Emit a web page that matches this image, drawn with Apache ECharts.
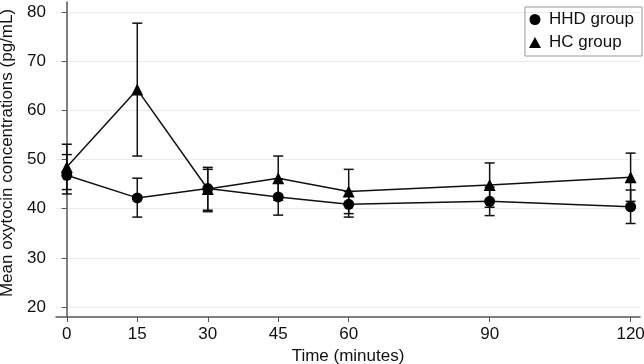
<!DOCTYPE html>
<html>
<head>
<meta charset="utf-8">
<script src="https://cdn.jsdelivr.net/npm/echarts@6/dist/echarts.min.js"></script>
<style>
  html, body { margin: 0; padding: 0; background: #fff; }
  #chart { width: 644px; height: 364px; }
</style>
</head>
<body>
<div id="chart"></div>
<script>
// time points (minutes)
const times = [0, 15, 30, 45, 60, 90, 120];
const xTicks = [0, 15, 30, 45, 60, 90, 120];
const yTicks = [20, 30, 40, 50, 60, 70, 80];

// HHD group: mean and error bar ends
const hhdMean = [46.8, 42.2, 44.1, 42.4, 40.9, 41.5, 40.4];
const hhdLow = [43.0, 38.3, 39.4, 38.7, 38.3, 38.6, 37.0];
const hhdHigh = [51.0, 46.2, 48.0, 46.1, 43.5, 44.4, 43.8];

// HC group
const hcMean = [48.5, 64.2, 44.0, 46.2, 43.5, 44.8, 46.4];
const hcLow = [43.9, 50.7, 39.7, 41.7, 39.0, 40.3, 41.5];
const hcHigh = [53.1, 77.7, 48.4, 50.7, 48.0, 49.3, 51.3];

const font = 'Liberation Sans, Arial, sans-serif';

function errData(low, high) {
  return times.map((t, i) => [t, low[i], high[i]]);
}

function renderErr(params, api) {
  const x = api.value(0);
  const lo = api.coord([x, api.value(1)]);
  const hi = api.coord([x, api.value(2)]);
  const w = 5;
  const style = { stroke: '#111', lineWidth: 1.5 };
  return {
    type: 'group',
    children: [
      { type: 'line', shape: { x1: lo[0], y1: lo[1], x2: hi[0], y2: hi[1] }, style },
      { type: 'line', shape: { x1: lo[0] - w, y1: lo[1], x2: lo[0] + w, y2: lo[1] }, style },
      { type: 'line', shape: { x1: hi[0] - w, y1: hi[1], x2: hi[0] + w, y2: hi[1] }, style },
    ],
  };
}

const chart = echarts.init(document.getElementById('chart'));
chart.setOption({
  animation: false,
  textStyle: { fontFamily: font },
  grid: { left: 56, right: 4, top: 2, bottom: 47, outerBoundsMode: 'none', containLabel: false },
  legend: {
    orient: 'vertical',
    right: 2,
    top: 7,
    itemWidth: 12,
    itemHeight: 11,
    itemGap: 6,
    padding: [4, 8, 5, 4],
    borderColor: '#999',
    borderWidth: 1,
    textStyle: { fontSize: 17, color: '#111', fontFamily: font, padding: [0, 0, 0, 3] },
    data: [
      { name: 'HHD group', icon: 'circle' },
      { name: 'HC group', icon: 'triangle' },
    ],
  },
  xAxis: {
    type: 'value',
    min: -2.3,
    max: 122,
    name: 'Time (minutes)',
    nameLocation: 'middle',
    nameGap: 30,
    nameTextStyle: { fontSize: 17, color: '#111', fontFamily: font },
    axisLine: { lineStyle: { color: '#555', width: 1.5 } },
    axisTick: { show: true, length: 5, lineStyle: { color: '#555' }, customValues: xTicks },
    axisLabel: { fontSize: 17, color: '#111', margin: 9, customValues: xTicks },
    splitLine: { show: false },
  },
  yAxis: {
    type: 'value',
    min: 18,
    max: 82,
    name: 'Mean oxytocin concentrations (pg/mL)',
    nameLocation: 'middle',
    nameGap: 39,
    nameTextStyle: { fontSize: 17, color: '#111', fontFamily: font, padding: [0, 0, 0, 13] },
    axisLine: { show: true, lineStyle: { color: '#555', width: 1.5 } },
    axisTick: { show: true, length: 5, lineStyle: { color: '#555' }, customValues: yTicks },
    axisLabel: { fontSize: 17, color: '#111', margin: 10, customValues: yTicks },
    splitLine: { show: true, lineStyle: { color: '#ebebeb', width: 1 } },
  },
  series: [
    {
      name: 'HHD err',
      type: 'custom',
      renderItem: renderErr,
      encode: { x: 0, y: [1, 2] },
      data: errData(hhdLow, hhdHigh),
      z: 2,
    },
    {
      name: 'HC err',
      type: 'custom',
      renderItem: renderErr,
      encode: { x: 0, y: [1, 2] },
      data: errData(hcLow, hcHigh),
      z: 2,
    },
    {
      name: 'HHD group',
      type: 'line',
      data: times.map((t, i) => [t, hhdMean[i]]),
      symbol: 'circle',
      symbolSize: 11,
      itemStyle: { color: '#000' },
      lineStyle: { color: '#111', width: 1.5 },
      z: 3,
    },
    {
      name: 'HC group',
      type: 'line',
      data: times.map((t, i) => [t, hcMean[i]]),
      symbol: 'triangle',
      symbolSize: 12,
      itemStyle: { color: '#000' },
      lineStyle: { color: '#111', width: 1.5 },
      z: 3,
    },
  ],
});
</script>
</body>
</html>
